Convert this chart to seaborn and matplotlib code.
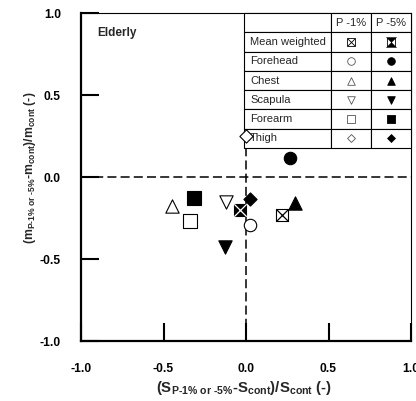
import matplotlib
matplotlib.use("Agg")
import matplotlib.pyplot as plt
from matplotlib.path import Path
import seaborn as sns
import pandas as pd

sites = ["Mean weighted", "Forehead", "Chest", "Scapula", "Forearm", "Thigh"]
p1_x = [0.218, 0.026, -0.450, -0.119, -0.339, 0.000]
p1_y = [-0.232, -0.293, -0.175, -0.150, -0.268, 0.252]
p5_x = [-0.036, 0.265, 0.297, -0.127, -0.313, 0.022]
p5_y = [-0.201, 0.114, -0.160, -0.425, -0.126, -0.136]
levels = ["P -1%", "P -5%"]
x_ticks = [-1.0, -0.5, 0.0, 0.5, 1.0]
y_ticks = [-1.0, -0.5, 0.0, 0.5, 1.0]

sns.set_theme(style="white")
plt.rcParams["font.family"] = ["Liberation Sans", "DejaVu Sans"]
plt.rcParams["mathtext.fontset"] = "custom"
plt.rcParams["mathtext.rm"] = "Liberation Sans:bold"
plt.rcParams["mathtext.it"] = "Liberation Sans:bold"
plt.rcParams["mathtext.bf"] = "Liberation Sans:bold"
plt.rcParams["mathtext.default"] = "rm"
plt.rcParams["lines.scale_dashes"] = False

df = pd.DataFrame({
    "site": sites * 2,
    "level": [levels[0]] * 6 + [levels[1]] * 6,
    "x": p1_x + p5_x,
    "y": p1_y + p5_y,
})

fig = plt.figure(figsize=(4.16, 4.01), dpi=100)
ax = fig.add_axes([81 / 416, 1 - 341 / 401, 330 / 416, 328 / 401])

# reference dashed lines
ax.axhline(0, color="black", lw=1.1, dashes=(6.5, 3), zorder=1)
ax.axvline(0, color="black", lw=1.1, dashes=(6.5, 3), zorder=1)

marker_map = {"Forehead": "o", "Chest": "^", "Scapula": "v", "Forearm": "s", "Thigh": "D"}
size_map = {"Forehead": 80, "Chest": 92, "Scapula": 92, "Forearm": 95, "Thigh": 45}

for (site, level), g in df.groupby(["site", "level"], sort=False):
    filled = level == levels[1]
    fc = "black" if filled else "white"
    if site == "Mean weighted":
        sns.scatterplot(data=g, x="x", y="y", marker="s", s=80, facecolor=fc,
                        edgecolor="black", linewidth=0.8, ax=ax, zorder=5)
        sns.scatterplot(data=g, x="x", y="y", marker="x", s=80,
                        color="white" if filled else "black", linewidth=0.9,
                        ax=ax, zorder=6)
    else:
        sns.scatterplot(data=g, x="x", y="y", marker=marker_map[site],
                        s=size_map[site], facecolor=fc, edgecolor="black",
                        linewidth=0.8, ax=ax, zorder=5)

ax.set_xlim(-1, 1)
ax.set_ylim(-1, 1)
ax.set_xticks(x_ticks)
ax.set_yticks(y_ticks)
ax.set_xticklabels([f"{t:.1f}" for t in x_ticks], fontweight="bold", fontsize=8.7)
ax.set_yticklabels([f"{t:.1f}" for t in y_ticks], fontweight="bold", fontsize=8.7)
ax.tick_params(axis="both", direction="in", length=13, width=1.5,
               colors="black", bottom=True, left=True, top=False, right=False)
ax.tick_params(axis="x", pad=16)
ax.tick_params(axis="y", pad=14.5)

for side in ["left", "bottom"]:
    ax.spines[side].set_linewidth(1.6)
    ax.spines[side].set_color("black")
for side in ["top", "right"]:
    ax.spines[side].set_linewidth(0.8)
    ax.spines[side].set_color("black")

ax.set_xlabel(r"(S$_{\text{P-1\% or -5\%}}$-S$_{\text{cont}}$)/S$_{\text{cont}}$ (-)",
              fontweight="bold", fontsize=10.8)
ax.set_ylabel(r"(m$_{\text{P-1\% or -5\%}}$-m$_{\text{cont}}$)/m$_{\text{cont}}$ (-)",
              fontweight="bold", fontsize=8.8)
ax.xaxis.set_label_coords((244 - 81) / 330, -0.117)
ax.yaxis.set_label_coords(-0.13, 1 - (168 - 13) / 328)

ax.text(-0.903, 0.86, "Elderly", fontweight="bold", fontsize=8.5, ha="left",
        va="baseline", zorder=7)

# legend table
cell_text = [["", levels[0], levels[1]]] + [[s, "", ""] for s in sites]
tb_left = (244 - 81) / 330
tb_bottom = 1 - (148 - 13) / 328
tbl = ax.table(cellText=cell_text, colWidths=[87 / 167, 40 / 167, 40 / 167],
               bbox=[tb_left, tb_bottom, 1 - tb_left, 1 - tb_bottom], zorder=3)
tbl.auto_set_font_size(False)
tbl.set_fontsize(8)
for (r, c), cell in tbl.get_celld().items():
    cell.set_linewidth(0.8)
    cell.set_edgecolor("black")
    cell.set_facecolor("white")
    if c == 0:
        cell._loc = "left"
        cell.PAD = 0.07
        cell.get_text().set_ha("left")
    else:
        cell._loc = "center"
        cell.get_text().set_ha("center")

nrows = 7
row_h = (1 - tb_bottom) / nrows
col_centers = [(351 - 81) / 330, (391 - 81) / 330]
hourglass = Path([(-0.5, 0.5), (0.5, 0.5), (0, 0), (-0.5, 0.5),
                  (-0.5, -0.5), (0.5, -0.5), (0, 0), (-0.5, -0.5)],
                 [Path.MOVETO, Path.LINETO, Path.LINETO, Path.CLOSEPOLY] * 2)
for i, site in enumerate(sites):
    yc = 1 - row_h * (i + 1.5)
    for j, cx in enumerate(col_centers):
        filled = j == 1
        fc = "black" if filled else "white"
        if site == "Mean weighted":
            ax.scatter([cx], [yc], marker="s", s=26, facecolor="white",
                       edgecolor="black", linewidth=0.6, transform=ax.transAxes, zorder=6)
            if filled:
                ax.scatter([cx], [yc], marker=hourglass, s=26 * 2, facecolor="black",
                           edgecolor="black", linewidth=0.3, transform=ax.transAxes, zorder=7)
            else:
                ax.scatter([cx], [yc], marker="x", s=26, color="black",
                           linewidth=0.6, transform=ax.transAxes, zorder=7)
        else:
            s = 16 if site == "Thigh" else 30
            ax.scatter([cx], [yc], marker=marker_map[site], s=s, facecolor=fc,
                       edgecolor="black" if filled else "#555555", linewidth=0.6,
                       transform=ax.transAxes, zorder=6)

fig.savefig("out.png", dpi=100)
